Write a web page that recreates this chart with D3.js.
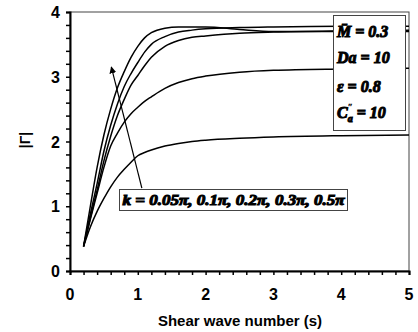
<!DOCTYPE html>
<html>
<head>
<meta charset="utf-8">
<script src="https://cdn.jsdelivr.net/npm/d3@7"></script>
<style>
  body { margin: 0; background: #fff; }
  svg { display: block; }
</style>
</head>
<body>
<script>
// |Gamma| vs shear wave number for several k values

var xVals = [0.2, 0.3, 0.4, 0.5, 0.6, 0.7, 0.8, 0.9, 1.0, 1.1, 1.2, 1.4, 1.6, 1.8, 2.0, 2.5, 3.0, 4.0, 5.0];

// values, one array per curve
var curveA = [0.38, 1.0, 1.6, 2.1, 2.5, 2.83, 3.08, 3.3, 3.47, 3.6, 3.68, 3.75, 3.77, 3.77, 3.77, 3.73, 3.70, 3.70, 3.70];
var curveB = [0.38, 0.88, 1.35, 1.85, 2.25, 2.58, 2.85, 3.05, 3.22, 3.38, 3.5, 3.62, 3.69, 3.72, 3.74, 3.76, 3.77, 3.78, 3.78];
var curveC = [0.38, 0.82, 1.25, 1.7, 2.08, 2.4, 2.65, 2.87, 3.02, 3.17, 3.3, 3.47, 3.56, 3.61, 3.63, 3.67, 3.69, 3.71, 3.72];
var curveD = [0.38, 0.8, 1.2, 1.6, 1.93, 2.13, 2.3, 2.43, 2.53, 2.62, 2.69, 2.82, 2.91, 2.97, 3.01, 3.07, 3.10, 3.12, 3.13];
var curveE = [0.38, 0.68, 0.92, 1.12, 1.3, 1.45, 1.57, 1.68, 1.78, 1.83, 1.87, 1.93, 1.97, 2.0, 2.02, 2.05, 2.07, 2.09, 2.10];
var curves = [curveA, curveB, curveC, curveD, curveE];

var xTicks = [0, 1, 2, 3, 4, 5];
var yTicks = [0, 1, 2, 3, 4];

var kLabel = "k = 0.05\u03c0, 0.1\u03c0, 0.2\u03c0, 0.3\u03c0, 0.5\u03c0";
var arrowFrom = [1.06, 1.28], arrowTo = [0.61, 3.15];

var width = 418, height = 332;
var svg = d3.select("body").append("svg")
    .attr("width", width)
    .attr("height", height);

var defs = svg.append("defs");
defs.append("marker")
    .attr("id", "head")
    .attr("viewBox", "0 0 10 10")
    .attr("refX", 9).attr("refY", 5)
    .attr("markerWidth", 7).attr("markerHeight", 7)
    .attr("markerUnits", "userSpaceOnUse")
    .attr("orient", "auto")
    .append("path")
    .attr("d", "M0,0 L10,5 L0,10 z")
    .attr("fill", "#000");

var x = d3.scaleLinear().domain([0, 5]).range([70, 409]);
var y = d3.scaleLinear().domain([0, 4]).range([271, 12]);

// frame
svg.append("rect")
    .attr("x", x(0)).attr("y", y(4))
    .attr("width", x(5) - x(0)).attr("height", y(0) - y(4))
    .attr("fill", "none")
    .attr("stroke", "#444")
    .attr("stroke-width", 1);

// axes (minor ticks every 0.2)
var minorX = d3.range(0, 5.001, 0.2);
var minorY = d3.range(0, 4.001, 0.2);

var xAxis = svg.append("g")
    .attr("transform", "translate(0," + y(0) + ")")
    .call(d3.axisBottom(x).tickValues(minorX).tickSize(4).tickFormat(""));
xAxis.select(".domain").attr("stroke-width", 2);
xAxis.selectAll("line").attr("stroke-width", 1.5);

var yAxis = svg.append("g")
    .attr("transform", "translate(" + x(0) + ",0)")
    .call(d3.axisLeft(y).tickValues(minorY).tickSize(4).tickFormat(""));
yAxis.select(".domain").attr("stroke-width", 2);
yAxis.selectAll("line").attr("stroke-width", 1.5);

var sans = "'Liberation Sans', Arial, sans-serif";

svg.selectAll(".xlab")
    .data(xTicks)
    .enter().append("text")
    .attr("x", function(d) { return x(d); })
    .attr("y", 300)
    .attr("text-anchor", "middle")
    .style("font-family", sans)
    .style("font-weight", "bold")
    .style("font-size", "16px")
    .text(function(d) { return d; });

svg.selectAll(".ylab")
    .data(yTicks)
    .enter().append("text")
    .attr("x", 60)
    .attr("y", function(d) { return y(d) + 6; })
    .attr("text-anchor", "end")
    .style("font-family", sans)
    .style("font-weight", "bold")
    .style("font-size", "16px")
    .text(function(d) { return d; });

svg.append("text")
    .attr("x", 240)
    .attr("y", 326)
    .attr("text-anchor", "middle")
    .style("font-family", sans)
    .style("font-weight", "bold")
    .style("font-size", "15px")
    .text("Shear wave number (s)");

svg.append("text")
    .attr("transform", "translate(30,140) rotate(-90)")
    .attr("text-anchor", "middle")
    .style("font-family", sans)
    .style("font-weight", "bold")
    .style("font-size", "14px")
    .text("|\u0393|");

// curves
var line = d3.line()
    .x(function(d, i) { return x(xVals[i]); })
    .y(function(d) { return y(d); })
    .curve(d3.curveMonotoneX);

svg.selectAll(".curve")
    .data(curves)
    .enter().append("path")
    .attr("class", "curve")
    .attr("d", line)
    .attr("fill", "none")
    .attr("stroke", "#000")
    .attr("stroke-width", 1.5);

// arrow
svg.append("line")
    .attr("x1", x(arrowFrom[0])).attr("y1", y(arrowFrom[1]))
    .attr("x2", x(arrowTo[0])).attr("y2", y(arrowTo[1]))
    .attr("stroke", "#000")
    .attr("stroke-width", 1.2)
    .attr("marker-end", "url(#head)");

// heavy bold italic serif, like the annotations in the source figure
var heavy = function(sel, size) {
    sel.style("font-family", "'Liberation Serif', 'DejaVu Serif', serif")
        .style("font-weight", "bold")
        .style("font-style", "italic")
        .style("font-size", size)
        .style("stroke", "#000")
        .style("stroke-width", "1px")
        .style("paint-order", "stroke");
};

svg.append("rect")
    .attr("x", 119.5).attr("y", 189.5)
    .attr("width", 228).attr("height", 21)
    .attr("fill", "#fff")
    .attr("stroke", "#444");
svg.append("text")
    .attr("x", 233.5).attr("y", 204.5)
    .attr("text-anchor", "middle")
    .attr("textLength", 222)
    .attr("lengthAdjust", "spacingAndGlyphs")
    .call(heavy, "14px")
    .text(kLabel);

// parameter box
svg.append("rect")
    .attr("x", 333.5).attr("y", 15.5)
    .attr("width", 72).attr("height", 115)
    .attr("fill", "#fff")
    .attr("stroke", "#444");

var p1 = svg.append("text").attr("x", 337).attr("y", 37).call(heavy, "16px");
p1.append("tspan").text("M\u0304");
p1.append("tspan").text(" = 0.3");

svg.append("text").attr("x", 337).attr("y", 63).call(heavy, "16px").text("Da = 10");
svg.append("text").attr("x", 337).attr("y", 92).call(heavy, "16px").text("\u03b5 = 0.8");

var p4 = svg.append("text").attr("x", 337).attr("y", 118).call(heavy, "16px");
p4.append("tspan").text("C");
p4.append("tspan").attr("dy", -8).style("font-size", "9px").style("stroke-width", "0.3px").text("\u2033");
p4.append("tspan").attr("dx", -5).attr("dy", 12).style("font-size", "10px").text("a");
p4.append("tspan").attr("dy", -4).text(" = 10");
</script>
</body>
</html>
